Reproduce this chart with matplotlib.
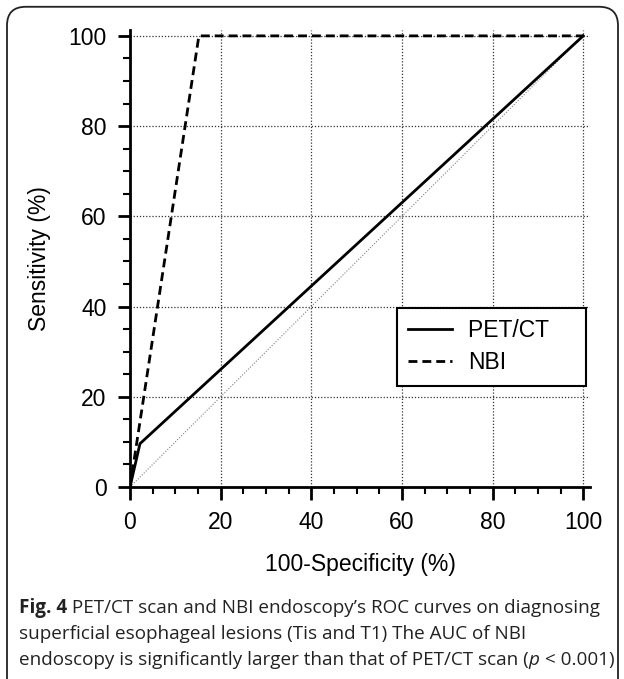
import matplotlib
matplotlib.use("Agg")
import matplotlib.pyplot as plt
from matplotlib.patches import FancyBboxPatch
from matplotlib.ticker import MultipleLocator

# ---------- ROC points ----------
pet_fpr = [0, 2.2, 100]
pet_tpr = [0, 9.6, 100]
nbi_fpr = [0, 15.2, 100]
nbi_tpr = [0, 100, 100]
ticks = [0, 20, 40, 60, 80, 100]

caption_lines = [
    [("Fig. 4", "bold", "normal"), (" PET/CT scan and NBI endoscopy\u2019s ROC curves on diagnosing", "normal", "normal")],
    [("superficial esophageal lesions (Tis and T1) The AUC of NBI", "normal", "normal")],
    [("endoscopy is significantly larger than that of PET/CT scan (", "normal", "normal"),
     ("p", "normal", "italic"), (" < 0.001)", "normal", "normal")],
]

plt.rcParams['font.family'] = ['Liberation Sans', 'DejaVu Sans']

fig = plt.figure(figsize=(6.24, 6.79), dpi=100)
ax = fig.add_axes([130 / 624, 192 / 679, 460 / 624, 457 / 679])

ax.plot([0, 100], [0, 100], color='gray', lw=0.8, ls=(0, (1, 1.5)))
ax.plot(pet_fpr, pet_tpr, color='black', lw=2.0, label='PET/CT    ')
ax.plot(nbi_fpr, nbi_tpr, color='black', lw=2.0, ls=(0, (3.2, 1.8)), label='NBI')

ax.set_xlim(0, 101.5)
ax.set_ylim(0, 101.3)
ax.set_xticks(ticks)
ax.set_yticks(ticks)
ax.xaxis.set_minor_locator(MultipleLocator(5))
ax.yaxis.set_minor_locator(MultipleLocator(5))
ax.tick_params(which='major', length=9, width=2, labelsize=16.5, pad=8)
ax.tick_params(which='minor', length=5, width=1.5)
ax.grid(True, which='major', color='#333333', lw=0.9, ls=(0, (1, 1.5)))
for s in ['top', 'right']:
    ax.spines[s].set_visible(False)
for s in ['left', 'bottom']:
    ax.spines[s].set_linewidth(2)

ax.set_xlabel('100-Specificity (%)', fontsize=16.5, labelpad=14)
ax.set_ylabel('Sensitivity (%)', fontsize=16.5, labelpad=12)

leg = ax.legend(loc='upper left', bbox_to_anchor=(0.580, 0.392), fontsize=16.5,
                fancybox=False, framealpha=1, edgecolor='black',
                handlelength=1.9, borderpad=0.5, labelspacing=0.4,
                handletextpad=0.72, borderaxespad=0)
leg.get_frame().set_linewidth(1.5)

# rounded frame around the figure, open at the bottom
frame = FancyBboxPatch((7 / 624, -0.05), 611 / 624, 1.04, transform=fig.transFigure,
                       boxstyle='round,pad=0,rounding_size=0.03',
                       fill=False, ec='#222222', lw=1.3, mutation_aspect=624 / 679)
fig.patches.append(frame)

# caption, built piece by piece so "Fig. 4" is bold and p italic
renderer = fig.canvas.get_renderer()
baselines = [613, 639, 665]
for line, yp in zip(caption_lines, baselines):
    x = 19
    for txt, weight, style in line:
        t = fig.text(x / 624, 1 - yp / 679, txt, fontsize=13.6, fontweight=weight,
                     fontstyle=style, va='baseline', ha='left', family='Open Sans',
                     color='#222222')
        x += t.get_window_extent(renderer).width

fig.savefig('out.png', dpi=100)
